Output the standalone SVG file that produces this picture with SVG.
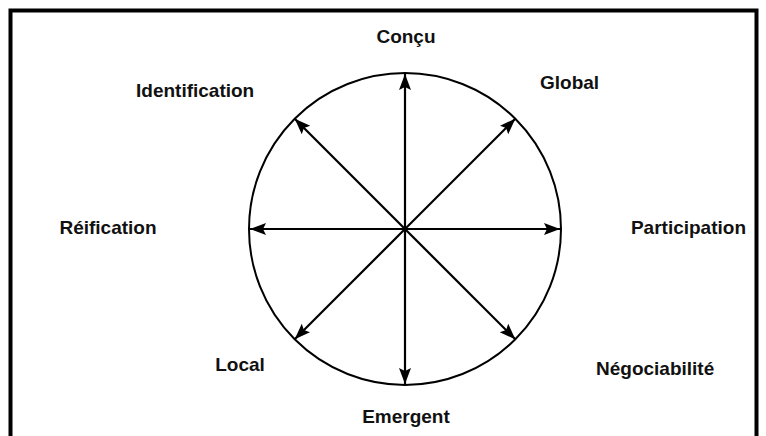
<svg xmlns="http://www.w3.org/2000/svg" width="766" height="436" viewBox="0 0 766 436">
<defs>
<marker id="ah" markerUnits="userSpaceOnUse" markerWidth="18" markerHeight="14" refX="16" refY="6" orient="auto">
<path d="M0,0 L16,6 L0,12 L3,6 Z" fill="#000"/>
</marker>
<style>
.lbl{font-family:"Liberation Sans",Arial,sans-serif;font-weight:bold;font-size:19px;fill:#111}
.ax{stroke:#000;stroke-width:2.2;fill:none;marker-end:url(#ah)}
</style>
</defs>
<rect x="0" y="0" width="766" height="436" fill="#fff"/>
<path d="M10.5,436 V10.5 H756.5 V436" fill="none" stroke="#000" stroke-width="4"/>
<g id="circle"><circle cx="405" cy="229" r="156" fill="none" stroke="#000" stroke-width="2"/></g>
<g id="connectors">
<line class="ax" x1="405" y1="229" x2="405" y2="74"/>
<line class="ax" x1="405" y1="229" x2="405" y2="384"/>
<line class="ax" x1="405" y1="229" x2="250" y2="229"/>
<line class="ax" x1="405" y1="229" x2="560" y2="229"/>
<line class="ax" x1="405" y1="229" x2="515.3" y2="118.7"/>
<line class="ax" x1="405" y1="229" x2="294.7" y2="118.7"/>
<line class="ax" x1="405" y1="229" x2="515.3" y2="339.3"/>
<line class="ax" x1="405" y1="229" x2="294.7" y2="339.3"/>
</g>
<g id="n-concu"><text class="lbl" x="406" y="43" text-anchor="middle">Conçu</text></g>
<g id="n-global"><text class="lbl" x="540" y="89">Global</text></g>
<g id="n-identification"><text class="lbl" x="136" y="97">Identification</text></g>
<g id="n-reification"><text class="lbl" x="108" y="234" text-anchor="middle">Réification</text></g>
<g id="n-participation"><text class="lbl" x="746" y="234" text-anchor="end">Participation</text></g>
<g id="n-local"><text class="lbl" x="240" y="371" text-anchor="middle">Local</text></g>
<g id="n-negociabilite"><text class="lbl" x="596" y="375">Négociabilité</text></g>
<g id="n-emergent"><text class="lbl" x="406" y="423" text-anchor="middle">Emergent</text></g>
</svg>
